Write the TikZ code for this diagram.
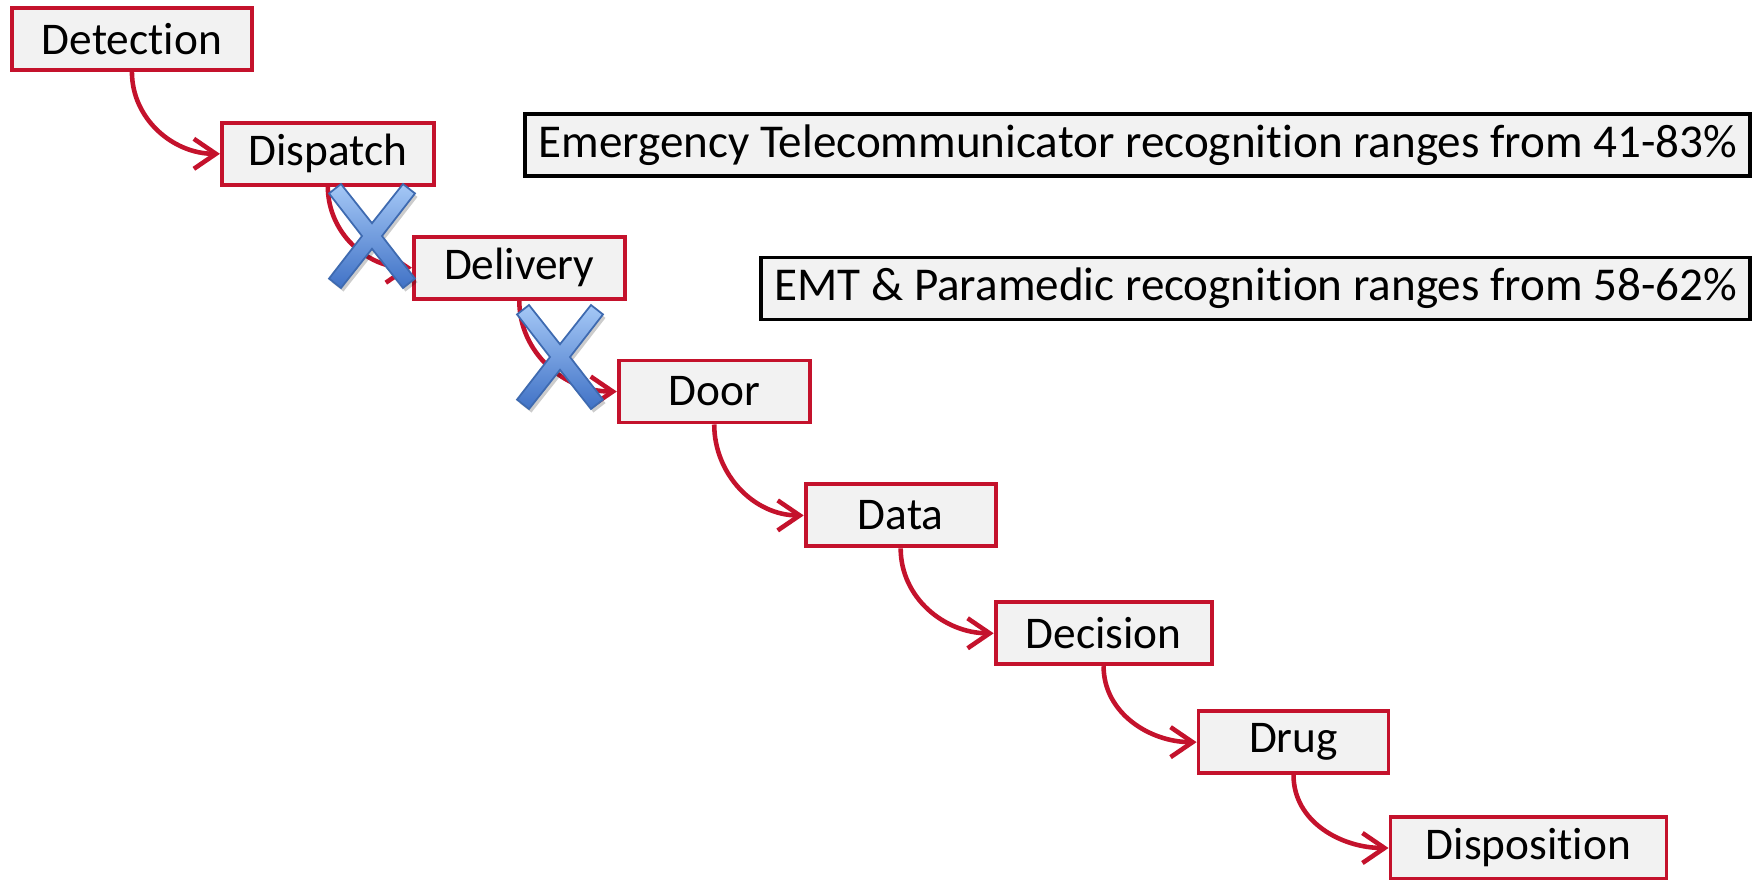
\documentclass[tikz,border=0pt]{standalone}
\usepackage{fontspec}
\setmainfont{Carlito}[Ligatures={TeX,NoCommon}]
\usetikzlibrary{arrows.meta,positioning}
\definecolor{stagered}{RGB}{196,18,44}
\definecolor{boxgray}{RGB}{242,242,242}
\definecolor{xlight}{RGB}{165,200,246}
\definecolor{xdark}{RGB}{64,114,198}
\definecolor{xedge}{RGB}{62,106,176}

\begin{document}
\begin{tikzpicture}[node distance=0.5cm, auto]
\tikzset{
    stagebox/.style={rectangle, draw=stagered, fill=boxgray, line width=1.1pt, minimum height=0.62cm, inner sep=0pt, text centered, font=\fontsize{12.9}{15}\selectfont},
    flowarrow/.style={-{Straight Barb[length=2.2mm,width=3mm]}, draw=stagered, line width=1.3pt},
    notebox/.style={rectangle, draw=black, fill=boxgray, line width=1pt, minimum height=0.62cm, inner sep=0pt, text centered, font=\fontsize{13.4}{16}\selectfont},
    xmark/.pic={
        \draw[xedge, line width=0.5pt, top color=xlight, bottom color=xdark,
              preaction={fill=black, opacity=0.2, transform canvas={shift={(0.025,-0.035)}}}]
            (0.100,0) -- (0.430,0.426) -- (0.310,0.520) -- (0,0.128)
            -- (-0.310,0.520) -- (-0.430,0.426) -- (-0.100,0)
            -- (-0.430,-0.426) -- (-0.310,-0.520) -- (0,-0.128)
            -- (0.310,-0.520) -- (0.430,-0.426) -- cycle;
    }
}
\useasboundingbox (0,0) rectangle (17.54,-8.79);

\node[stagebox, minimum width=2.40cm, anchor=north west] (detection) at (0.10,-0.06) {Detection};
\node[stagebox, minimum width=2.12cm, below right=0.49cm and 0.88cm of detection.south] (dispatch) {Dispatch};
\node[stagebox, minimum width=2.11cm, below right=0.48cm and 0.84cm of dispatch.south] (delivery) {Delivery};
\node[stagebox, minimum width=1.91cm, below right=0.58cm and 0.975cm of delivery.south] (door) {Door};
\node[stagebox, minimum width=1.90cm, below right=0.58cm and 0.895cm of door.south] (data) {Data};
\node[stagebox, minimum width=2.16cm, below right=0.52cm and 0.93cm of data.south] (decision) {Decision};
\node[stagebox, minimum width=1.90cm, below right=0.43cm and 0.93cm of decision.south] (drug) {Drug};
\node[stagebox, minimum width=2.76cm, below right=0.40cm and 0.95cm of drug.south] (disposition) {Disposition};
% the last box runs off the bottom edge, as on the slide

\node[notebox, minimum width=12.25cm, anchor=north east] (telecom) at (17.52,-1.12) {Emergency Telecommunicator recognition ranges from 41-83\%};
\node[notebox, minimum width=9.89cm, below left=0.78cm and 0cm of telecom.south east] (emt) {EMT \& Paramedic recognition ranges from 58-62\%};

\draw[flowarrow] (detection.south) to[out=-90, in=180] (dispatch.west);
\draw[flowarrow] (dispatch.south) to[out=-90, in=180] (delivery.west);
\draw[flowarrow] (delivery.south) to[out=-90, in=180] (door.west);
\draw[flowarrow] (door.south) to[out=-90, in=180] (data.west);
\draw[flowarrow] (data.south) to[out=-90, in=180] (decision.west);
\draw[flowarrow] (decision.south) to[out=-90, in=180] (drug.west);
\draw[flowarrow] (drug.south) to[out=-90, in=180] (disposition.west);

% crossed-out hand-offs
\pic at (3.72,-2.36) {xmark};
\pic at (5.60,-3.57) {xmark};

\end{tikzpicture}
\end{document}
